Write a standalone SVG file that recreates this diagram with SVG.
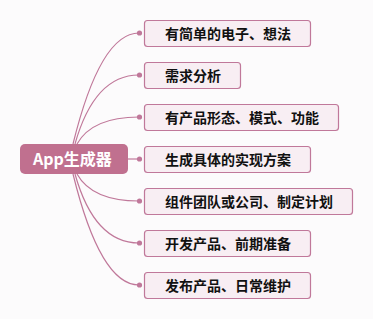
<svg xmlns="http://www.w3.org/2000/svg" width="373" height="319" viewBox="0 0 373 319">
<style>
.bg{fill:#fcfbfc}
.box{fill:#f8eef3;stroke:#c0789a;stroke-width:1.2}
.t{font-family:"Noto Sans CJK SC","Noto Sans",sans-serif;font-size:14px;font-weight:bold;fill:#111}
.c{fill:none;stroke:#c0789a;stroke-width:1.2}
.dot{fill:#c0789a}
</style>
<rect class="bg" x="0" y="0" width="373" height="319"/>
<g id="connectors">
<path class="c" d="M73,144 C88,83 109,33 139,33"/>
<path class="c" d="M75,144 C86,105 105,75 139,75"/>
<path class="c" d="M77,144 C86,128 105,117 139,117"/>
<path class="c" d="M128,159 L139,159"/>
<path class="c" d="M77,174 C86,190 105,201 139,201"/>
<path class="c" d="M75,174 C86,213 105,243 139,243"/>
<path class="c" d="M73,174 C88,235 109,285 139,285"/>
<circle class="dot" cx="139.5" cy="33" r="2.6"/>
<circle class="dot" cx="139.5" cy="75" r="2.6"/>
<circle class="dot" cx="139.5" cy="117" r="2.6"/>
<circle class="dot" cx="139.5" cy="159" r="2.6"/>
<circle class="dot" cx="139.5" cy="201" r="2.6"/>
<circle class="dot" cx="139.5" cy="243" r="2.6"/>
<circle class="dot" cx="139.5" cy="285" r="2.6"/>
</g>
<g id="root">
<rect x="20" y="144" width="108" height="30" rx="5" fill="#c0708f"/>
<text x="33" y="165" font-family="'Noto Sans CJK SC','Noto Sans',sans-serif" font-size="16" font-weight="bold" fill="#fff">App生成器</text>
</g>
<g id="n1"><rect class="box" x="144.5" y="20.5" width="166" height="26" rx="3"/><text class="t" x="165" y="38.5">有简单的电子、想法</text></g>
<g id="n2"><rect class="box" x="144.5" y="62.5" width="96" height="26" rx="3"/><text class="t" x="165" y="80.5">需求分析</text></g>
<g id="n3"><rect class="box" x="144.5" y="104.5" width="194" height="26" rx="3"/><text class="t" x="165" y="122.5">有产品形态、模式、功能</text></g>
<g id="n4"><rect class="box" x="144.5" y="146.5" width="166" height="26" rx="3"/><text class="t" x="165" y="164.5">生成具体的实现方案</text></g>
<g id="n5"><rect class="box" x="144.5" y="188.5" width="208" height="26" rx="3"/><text class="t" x="165" y="206.5">组件团队或公司、制定计划</text></g>
<g id="n6"><rect class="box" x="144.5" y="230.5" width="166" height="26" rx="3"/><text class="t" x="165" y="248.5">开发产品、前期准备</text></g>
<g id="n7"><rect class="box" x="144.5" y="272.5" width="166" height="26" rx="3"/><text class="t" x="165" y="290.5">发布产品、日常维护</text></g>
</svg>
